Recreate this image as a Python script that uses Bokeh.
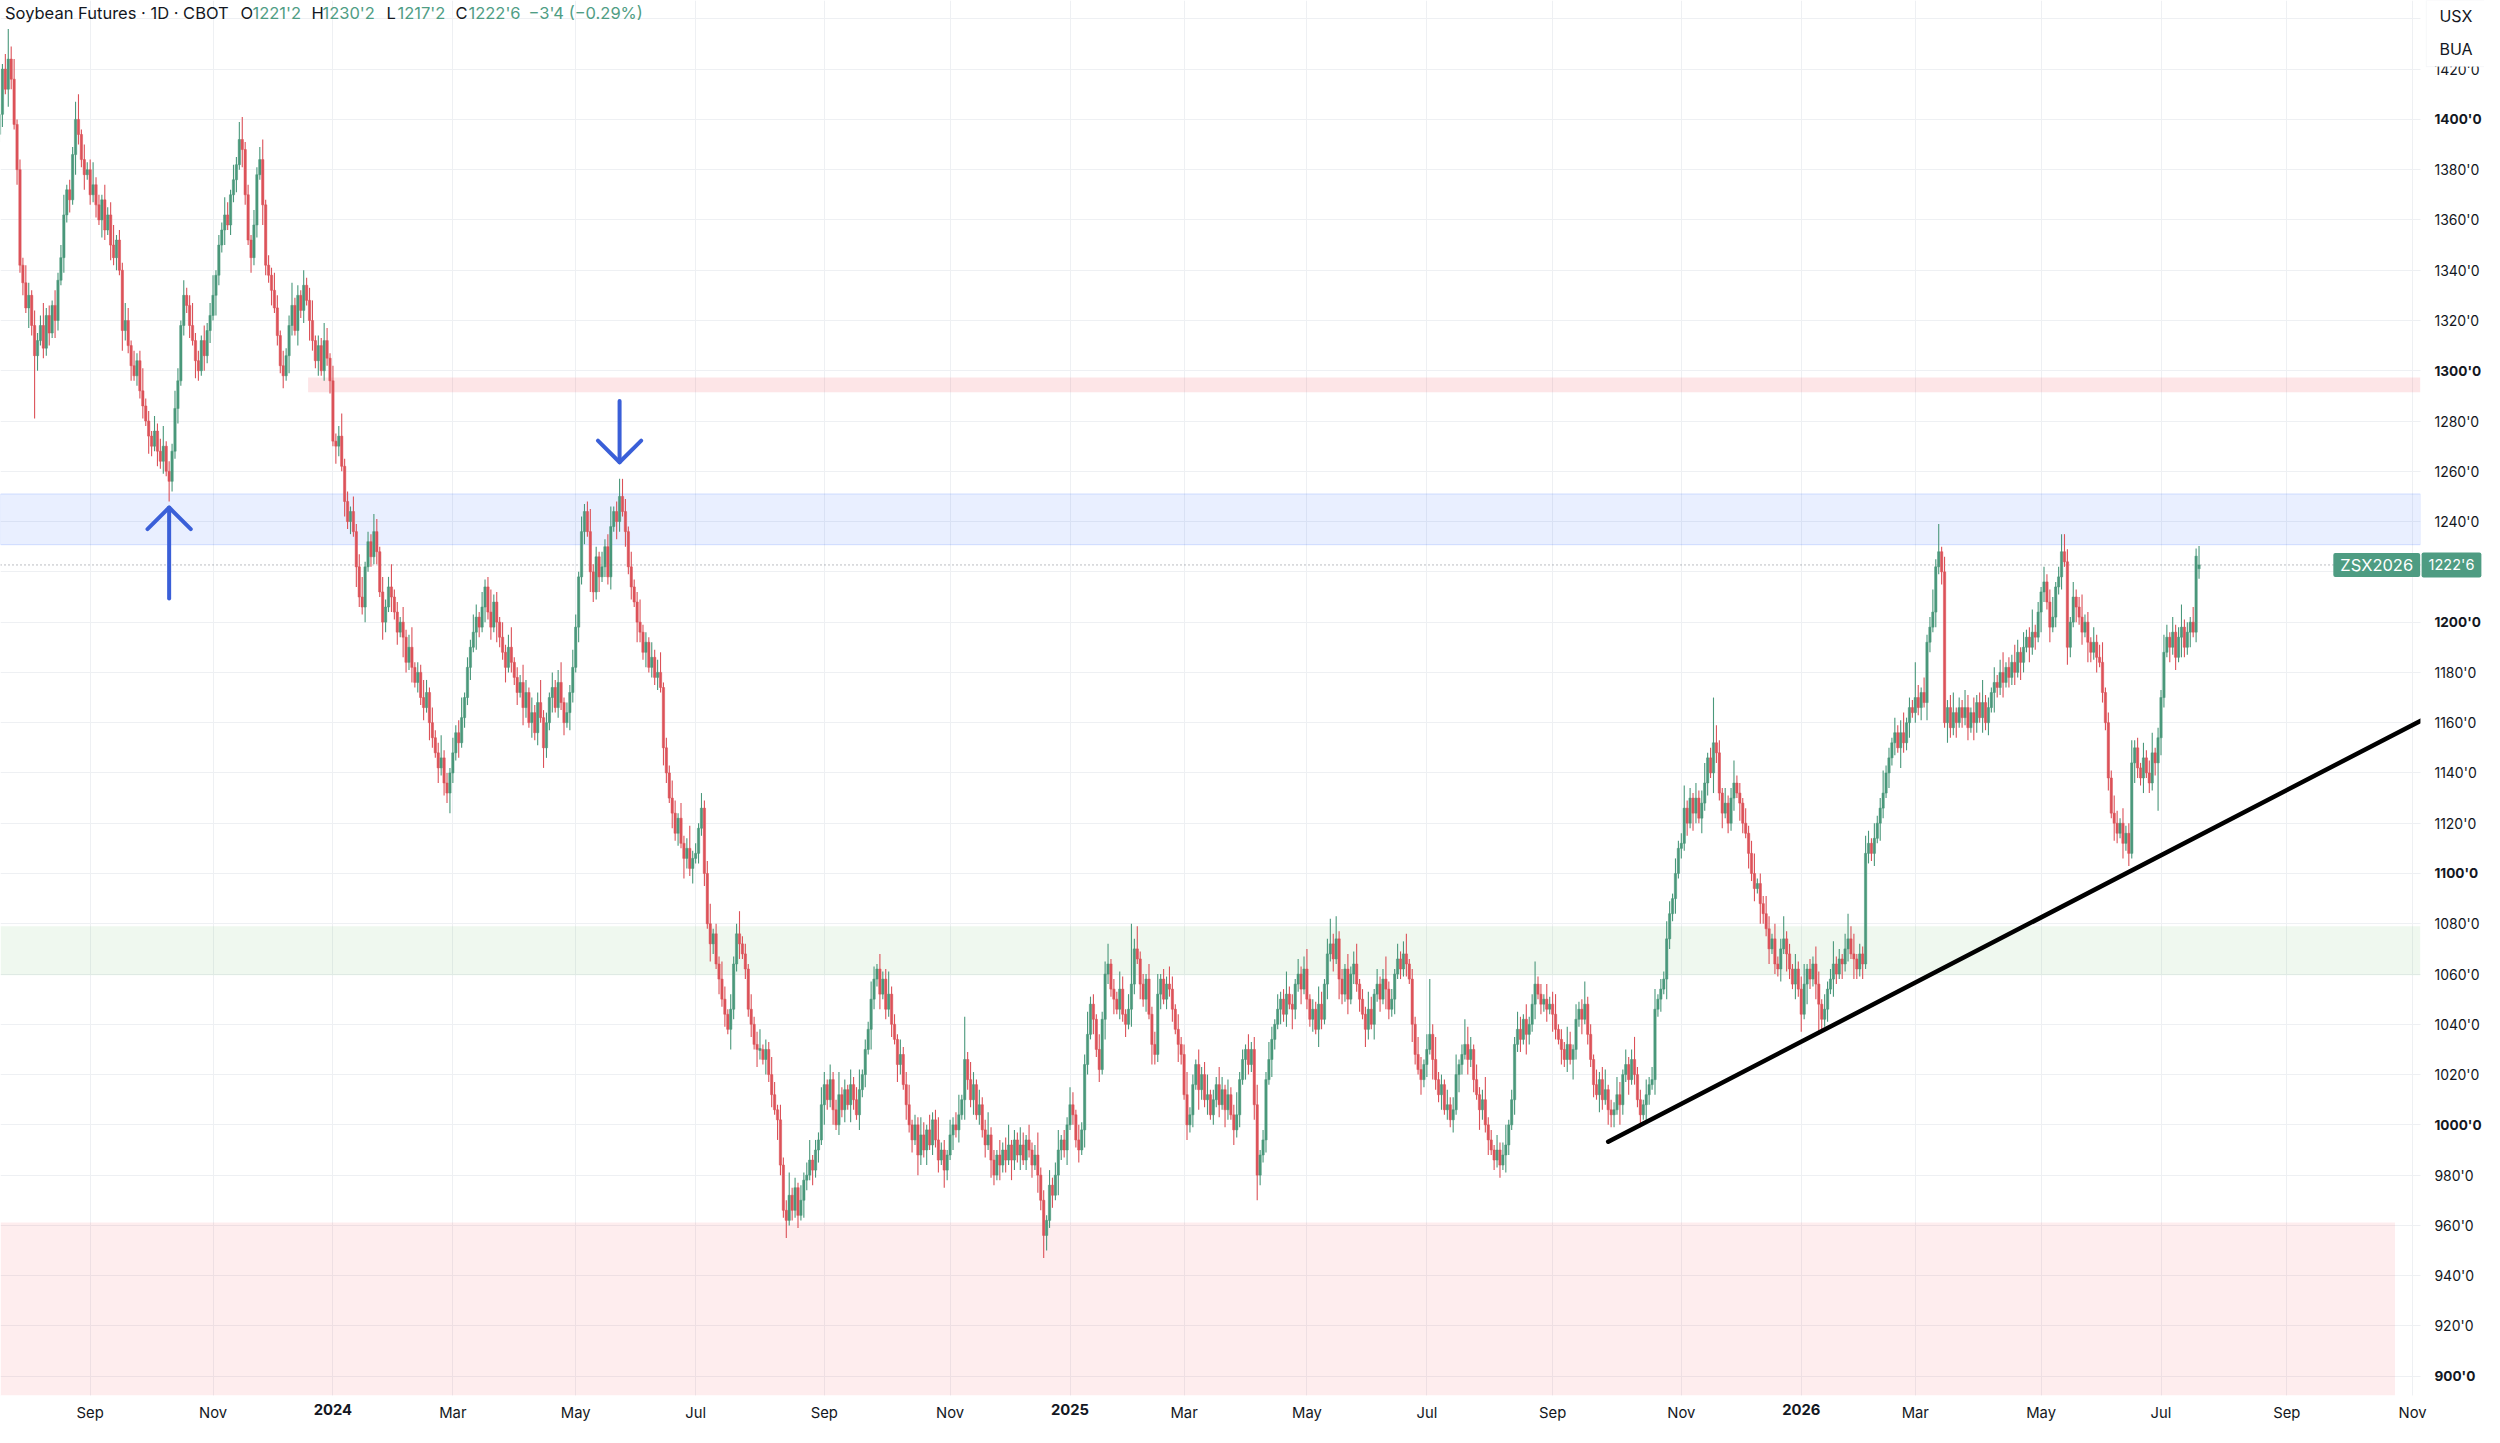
import numpy as np
import pandas as pd
from bokeh.plotting import figure
from bokeh.models import (ColumnDataSource, FixedTicker, Label, BoxAnnotation, Span,
                          Range1d, LinearAxis, Grid)
from bokeh.embed import file_html
from bokeh.resources import INLINE

# ---------------------------------------------------------------- data
SYMBOL = "ZSX2026"
TITLE = "Soybean Futures · 1D · CBOT"
START_DATE = "2023-07-20"
HOLIDAYS = ["2023-09-04", "2023-11-23", "2023-12-25", "2024-01-01", "2024-01-15",
            "2024-02-19", "2024-03-29", "2024-05-27", "2024-06-19", "2024-07-04",
            "2024-09-02", "2024-11-28", "2024-12-25", "2025-01-01", "2025-01-09",
            "2025-01-20", "2025-02-17", "2025-04-18", "2025-05-26", "2025-06-19",
            "2025-07-04", "2025-09-01", "2025-11-27", "2025-12-25", "2026-01-01",
            "2026-01-19", "2026-02-16", "2026-04-03", "2026-05-25", "2026-06-19",
            "2026-07-03", "2026-09-07"]
FIRST_OPEN = 1394
LAST_OPEN, LAST_HIGH, LAST_LOW = 1221.25, 1230.25, 1217.25

# daily closes, one list per month
c_2023_07 = [1402, 1420, 1412, 1424, 1416, 1398, 1380, 1342]
c_2023_08 = [1335, 1325, 1330, 1318, 1306, 1312, 1318, 1309, 1322, 1315, 1326, 1320, 1336, 1345,
             1362, 1372, 1368, 1386, 1400, 1394, 1384, 1378, 1380]
c_2023_09 = [1370, 1374, 1366, 1360, 1368, 1356, 1362, 1350, 1345, 1352, 1340, 1316, 1320, 1310,
             1302, 1298, 1304, 1292, 1286, 1280]
c_2023_10 = [1274, 1270, 1276, 1268, 1264, 1270, 1260, 1256, 1268, 1285, 1296, 1318, 1330, 1326,
             1318, 1312, 1304, 1300, 1312, 1306, 1316, 1322]
c_2023_11 = [1330, 1338, 1350, 1356, 1362, 1358, 1370, 1376, 1382, 1392, 1388, 1370, 1352, 1345,
             1358, 1378, 1384, 1366, 1342, 1338, 1332]
c_2023_12 = [1325, 1314, 1302, 1298, 1306, 1318, 1326, 1316, 1330, 1324, 1334, 1328, 1320, 1312,
             1304, 1310, 1300, 1312, 1305, 1296]
c_2024_01 = [1272, 1270, 1274, 1262, 1248, 1240, 1244, 1236, 1222, 1210, 1206, 1222, 1232, 1226,
             1236, 1228, 1212, 1200, 1206, 1214, 1210]
c_2024_02 = [1204, 1196, 1200, 1194, 1184, 1190, 1182, 1176, 1180, 1170, 1166, 1172, 1160, 1154,
             1148, 1142, 1146, 1136, 1132, 1140]
c_2024_03 = [1148, 1156, 1152, 1162, 1170, 1182, 1190, 1196, 1202, 1198, 1206, 1214, 1204, 1198,
             1208, 1200, 1194, 1188, 1182, 1190]
c_2024_04 = [1184, 1178, 1172, 1176, 1166, 1172, 1160, 1164, 1156, 1168, 1162, 1150, 1160, 1170,
             1174, 1166, 1176, 1168, 1160, 1164, 1172, 1182]
c_2024_05 = [1198, 1218, 1236, 1244, 1236, 1220, 1212, 1226, 1218, 1222, 1230, 1218, 1238, 1244,
             1240, 1250, 1244, 1236, 1222, 1214, 1208, 1200]
c_2024_06 = [1196, 1188, 1192, 1182, 1186, 1178, 1180, 1174, 1150, 1140, 1130, 1124, 1116, 1122,
             1112, 1106, 1110, 1102, 1106]
c_2024_07 = [1108, 1118, 1126, 1100, 1080, 1072, 1076, 1064, 1058, 1050, 1044, 1038, 1046, 1064,
             1076, 1072, 1068, 1062, 1046, 1040, 1032, 1030]
c_2024_08 = [1030, 1026, 1030, 1020, 1012, 1006, 1002, 984, 966, 962, 972, 966, 975, 964, 970,
             978, 980, 986, 982, 990, 994, 1008]
c_2024_09 = [1016, 1010, 1018, 1006, 1000, 1012, 1006, 1014, 1008, 1016, 1010, 1004, 1014, 1020,
             1030, 1038, 1050, 1058, 1062, 1052]
c_2024_10 = [1058, 1046, 1052, 1040, 1034, 1024, 1028, 1016, 1008, 1000, 994, 1000, 988, 996,
             990, 998, 992, 1002, 994, 986, 990, 982, 988]
c_2024_11 = [996, 1000, 998, 1004, 1010, 1026, 1018, 1010, 1016, 1004, 1008, 998, 992, 996, 986,
             980, 988, 984, 990, 986]
c_2024_12 = [992, 986, 994, 988, 992, 986, 994, 990, 984, 988, 980, 970, 956, 962, 976, 972, 980,
             990, 994, 990, 1000]
c_2025_01 = [1008, 1004, 994, 990, 998, 1024, 1036, 1048, 1042, 1030, 1022, 1042, 1060, 1064,
             1054, 1050, 1046, 1054, 1044, 1040]
c_2025_02 = [1046, 1056, 1070, 1066, 1056, 1050, 1058, 1044, 1032, 1028, 1052, 1058, 1050, 1056,
             1054, 1046, 1038, 1032, 1028]
c_2025_03 = [1012, 1000, 1004, 1016, 1024, 1014, 1020, 1010, 1012, 1004, 1010, 1016, 1008, 1014,
             1006, 1012, 1004, 998, 1004, 1018, 1026]
c_2025_04 = [1030, 1024, 1030, 1008, 980, 988, 994, 1018, 1026, 1034, 1040, 1046, 1050, 1044,
             1052, 1048, 1046, 1056, 1060, 1054, 1062]
c_2025_05 = [1050, 1042, 1046, 1038, 1048, 1042, 1056, 1068, 1072, 1066, 1074, 1058, 1052, 1062,
             1050, 1060, 1064, 1056, 1050, 1044, 1038]
c_2025_06 = [1046, 1040, 1052, 1056, 1050, 1058, 1054, 1046, 1050, 1060, 1066, 1062, 1068, 1064,
             1058, 1040, 1028, 1022, 1018, 1024]
c_2025_07 = [1030, 1036, 1026, 1018, 1012, 1016, 1006, 1008, 1002, 1006, 1020, 1024, 1028, 1032,
             1026, 1030, 1018, 1012, 1006, 1010, 1000, 994]
c_2025_08 = [990, 986, 990, 984, 988, 992, 1000, 1010, 1032, 1038, 1034, 1042, 1036, 1040, 1048,
             1056, 1052, 1048, 1050, 1046, 1048]
c_2025_09 = [1044, 1038, 1034, 1030, 1026, 1032, 1026, 1030, 1042, 1046, 1042, 1048, 1036, 1026,
             1016, 1012, 1018, 1010, 1014, 1006, 1004]
c_2025_10 = [1006, 1012, 1008, 1020, 1024, 1018, 1026, 1020, 1010, 1004, 1008, 1012, 1016, 1018,
             1046, 1050, 1054, 1058, 1074, 1084, 1090, 1100, 1110]
c_2025_11 = [1112, 1126, 1120, 1130, 1124, 1130, 1122, 1128, 1136, 1146, 1140, 1152, 1148, 1132,
             1124, 1128, 1120, 1130, 1136]
c_2025_12 = [1132, 1128, 1120, 1116, 1108, 1100, 1094, 1096, 1088, 1084, 1078, 1070, 1074, 1064,
             1062, 1070, 1074, 1068, 1062, 1056, 1062, 1054]
c_2026_01 = [1044, 1056, 1062, 1058, 1064, 1056, 1048, 1042, 1046, 1054, 1058, 1064, 1060, 1066,
             1064, 1070, 1074, 1068, 1066, 1062]
c_2026_02 = [1068, 1064, 1108, 1112, 1108, 1114, 1120, 1126, 1132, 1140, 1146, 1152, 1156, 1150,
             1156, 1152, 1160, 1166, 1164]
c_2026_03 = [1170, 1166, 1172, 1168, 1192, 1198, 1204, 1222, 1228, 1220, 1160, 1166, 1158, 1164,
             1160, 1166, 1162, 1166, 1158, 1164, 1160, 1168]
c_2026_04 = [1162, 1168, 1160, 1166, 1172, 1176, 1174, 1180, 1176, 1182, 1178, 1184, 1180, 1188,
             1184, 1190, 1194, 1190, 1196, 1194, 1204]
c_2026_05 = [1212, 1216, 1208, 1198, 1202, 1214, 1218, 1228, 1224, 1190, 1200, 1210, 1206, 1202,
             1196, 1200, 1192, 1188, 1192, 1186]
c_2026_06 = [1184, 1172, 1160, 1138, 1124, 1120, 1116, 1120, 1112, 1116, 1108, 1144, 1150, 1142,
             1138, 1146, 1140, 1136, 1148, 1144, 1154]
c_2026_07 = [1170, 1188, 1194, 1190, 1196, 1186, 1194, 1198, 1190, 1196, 1200, 1196, 1226.25,
             1222.75]

# wick lengths (price units) and notable extremes
WICK_UP = [4, 2, 6, 3, 5, 8, 2, 4, 3, 7, 5, 2, 6, 3, 4, 9, 3]
WICK_DN = [3, 5, 2, 7, 4, 2, 6, 3, 5, 2, 8, 4, 3, 6, 2, 4]
EXTREME_HIGHS = {"2023-07-25": 1436, "2023-08-28": 1410, "2023-11-14": 1399,
                 "2024-05-22": 1257, "2024-11-08": 1043, "2025-02-04": 1080,
                 "2025-05-13": 1082, "2025-07-02": 1058, "2025-07-21": 1042,
                 "2025-11-18": 1170, "2026-01-27": 1084, "2026-03-02": 1184,
                 "2026-03-12": 1239, "2026-05-12": 1235}
EXTREME_LOWS = {"2023-08-07": 1281, "2023-10-11": 1250, "2024-02-28": 1128,
                "2024-08-14": 955, "2024-12-18": 947, "2025-04-07": 970,
                "2025-08-06": 981, "2025-09-30": 999, "2026-01-02": 1037,
                "2026-01-12": 1036, "2026-06-15": 1103, "2026-06-30": 1125}

Y_TICKS = list(range(900, 1441, 20))
MONTH_ABBR = ["Jan", "Feb", "Mar", "Apr", "May", "Jun", "Jul", "Aug", "Sep", "Oct", "Nov", "Dec"]
LABEL_MONTHS = [1, 3, 5, 7, 9, 11]
AXIS_MONTHS = ("2023-09-01", "2026-11-01")

ZONES = [
    dict(bottom=1291.5, top=1297.3, start="2023-12-19", end=None, color="#f23645", alpha=0.13, edge=0),
    dict(bottom=1230.8, top=1251.0, start=None, end=None, color="#2962ff", alpha=0.10, edge=0.18),
    dict(bottom=1059.5, top=1079.0, start=None, end=None, color="#4caf50", alpha=0.09, edge=0),
    dict(bottom=None, top=961.2, start=None, end="2026-10-23", color="#f23645", alpha=0.09, edge=0),
]
TREND = [("2025-09-29", 993.3), ("2026-11-05", 1160.9)]
ARROWS = [dict(date="2023-10-11", base=1209.4, tip=1245.6),
          dict(date="2024-05-22", base=1288.0, tip=1263.6)]
ARROW_HEAD_W, ARROW_HEAD_H = 7.4, 8.6

UP, DOWN = "#4a987b", "#dc5259"
TAG = "#4e9c82"
GREEN_TXT = "#4f9d84"
DARK = "#131722"
GRID = "#eef0f3"
FONT = "Inter"

# ---------------------------------------------------------------- build
closes = (c_2023_07 + c_2023_08 + c_2023_09 + c_2023_10 + c_2023_11 + c_2023_12 +
          c_2024_01 + c_2024_02 + c_2024_03 + c_2024_04 + c_2024_05 + c_2024_06 +
          c_2024_07 + c_2024_08 + c_2024_09 + c_2024_10 + c_2024_11 + c_2024_12 +
          c_2025_01 + c_2025_02 + c_2025_03 + c_2025_04 + c_2025_05 + c_2025_06 +
          c_2025_07 + c_2025_08 + c_2025_09 + c_2025_10 + c_2025_11 + c_2025_12 +
          c_2026_01 + c_2026_02 + c_2026_03 + c_2026_04 + c_2026_05 + c_2026_06 +
          c_2026_07)
n = len(closes)
days = pd.bdate_range(START_DATE, "2026-12-31", freq="C", holidays=HOLIDAYS)


def di(d):
    return int(days.searchsorted(pd.Timestamp(d)))


opens = [FIRST_OPEN] + closes[:-1]
opens[-1] = LAST_OPEN
highs = [max(o, c) + WICK_UP[i % len(WICK_UP)] for i, (o, c) in enumerate(zip(opens, closes))]
lows = [min(o, c) - WICK_DN[i % len(WICK_DN)] for i, (o, c) in enumerate(zip(opens, closes))]
highs[-1], lows[-1] = LAST_HIGH, LAST_LOW
for d, v in EXTREME_HIGHS.items():
    i = di(d)
    if i < n:
        highs[i] = max(highs[i], v)
for d, v in EXTREME_LOWS.items():
    i = di(d)
    if i < n:
        lows[i] = min(lows[i], v)

tops = [max(o, c) + (0.4 if o == c else 0) for o, c in zip(opens, closes)]
bots = [min(o, c) - (0.4 if o == c else 0) for o, c in zip(opens, closes)]
cols = [UP if c >= o else DOWN for o, c in zip(opens, closes)]
src = ColumnDataSource(dict(x=list(range(n)), high=highs, low=lows, top=tops, bottom=bots, color=cols))


def fmt(v):
    s = "−" if v < 0 else ""
    v = abs(v)
    w = int(np.floor(v + 1e-9))
    e = int(round((v - w) * 8))
    return f"{s}{w}'{e}"


last_close, prev_close = closes[-1], closes[-2]
chg = last_close - prev_close
pct = chg / prev_close * 100
chg_text = f"{fmt(chg)} ({'−' if pct < 0 else ''}{abs(pct):.2f}%)"

month_starts = pd.date_range(AXIS_MONTHS[0], AXIS_MONTHS[1], freq="MS")
x_ticks, x_text = [], []
for ms in month_starts:
    if ms.month in LABEL_MONTHS:
        x_ticks.append(di(ms))
        x_text.append(str(ms.year) if ms.month == 1 else MONTH_ABBR[ms.month - 1])
year_ticks = [t for t, s in zip(x_ticks, x_text) if s.isdigit()]
month_ticks = [t for t, s in zip(x_ticks, x_text) if not s.isdigit()]

# ---------------------------------------------------------------- layout
FW, FH = 2484, 1427
X0, X1 = 0.342, 849.6         # bar-index range of the whole canvas
SCALE_X = 827.7               # where the price scale starts
Y0, Y1 = 879.6, 1447.3        # price range of the whole canvas
CHART_BOTTOM = 892.3          # where the time scale starts

p = figure(frame_width=FW, frame_height=FH, x_range=Range1d(X0, X1), y_range=Range1d(Y0, Y1),
           x_axis_type=None, y_axis_type=None, output_backend="svg", toolbar_location=None,
           min_border=0, background_fill_color="white", border_fill_color="white")
p.outline_line_color = None

p.add_layout(Grid(dimension=0, ticker=FixedTicker(ticks=x_ticks), grid_line_color=GRID))
p.add_layout(Grid(dimension=1, ticker=FixedTicker(ticks=Y_TICKS), grid_line_color=GRID))

for z in ZONES:
    kw = dict(fill_color=z["color"], fill_alpha=z["alpha"], level="underlay", top=z["top"],
              bottom=z["bottom"] if z["bottom"] is not None else CHART_BOTTOM,
              right=di(z["end"]) if z["end"] is not None else SCALE_X)
    if z["start"] is not None:
        kw["left"] = di(z["start"]) - 0.5
    if z["edge"]:
        kw.update(line_color=z["color"], line_alpha=z["edge"], line_width=1)
    else:
        kw["line_color"] = None
    p.add_layout(BoxAnnotation(**kw))

p.add_layout(Span(location=last_close, dimension="width", line_color="#787b86",
                  line_dash="1 3", line_width=1, level="underlay"))

# white price-scale and time-scale areas (hide grid there)
p.add_layout(BoxAnnotation(left=SCALE_X, fill_color="white", fill_alpha=1, line_color=None,
                           level="glyph"))
p.add_layout(BoxAnnotation(top=CHART_BOTTOM, fill_color="white", fill_alpha=1, line_color=None,
                           level="glyph"))

p.segment(x0="x", y0="low", x1="x", y1="high", line_color="color", line_width=1.1, source=src)
p.vbar(x="x", width=0.8, top="top", bottom="bottom", fill_color="color",
       line_color="color", line_width=0.5, source=src)

p.line([di(TREND[0][0]), di(TREND[1][0])], [TREND[0][1], TREND[1][1]],
       line_color="black", line_width=4.5, line_cap="round")

xs, ys = [], []
for a in ARROWS:
    ax_ = di(a["date"])
    s = 1 if a["tip"] > a["base"] else -1
    xs += [[ax_, ax_], [ax_ - ARROW_HEAD_W, ax_, ax_ + ARROW_HEAD_W]]
    ys += [[a["base"], a["tip"]], [a["tip"] - s * ARROW_HEAD_H, a["tip"], a["tip"] - s * ARROW_HEAD_H]]
p.multi_line(xs, ys, line_color="#3a5fd8", line_width=4, line_cap="round", line_join="round")


def style_axis(ax, size, bold=False):
    ax.axis_line_color = None
    ax.major_tick_line_color = None
    ax.minor_tick_line_color = None
    ax.major_label_text_font = FONT
    ax.major_label_text_font_size = size
    ax.major_label_text_color = DARK
    ax.major_label_text_font_style = "bold" if bold else "normal"


# price scale: regular and bold (round hundreds) labels
hundreds = [t for t in Y_TICKS if t % 100 == 0]
others = [t for t in Y_TICKS if t % 100 != 0]
ya = LinearAxis(fixed_location=SCALE_X, ticker=FixedTicker(ticks=others),
                major_label_overrides={t: f"{t}'0" for t in others}, major_label_standoff=8)
style_axis(ya, "14px")
p.add_layout(ya, "right")
yb = LinearAxis(fixed_location=SCALE_X, ticker=FixedTicker(ticks=hundreds),
                major_label_overrides={t: f"{t}'0" for t in hundreds}, major_label_standoff=8)
style_axis(yb, "13.6px", bold=True)
p.add_layout(yb, "right")

# time scale: months and bold years
xa = LinearAxis(fixed_location=CHART_BOTTOM, ticker=FixedTicker(ticks=month_ticks),
                major_label_overrides={t: s for t, s in zip(x_ticks, x_text) if not s.isdigit()},
                major_label_standoff=2)
style_axis(xa, "14.8px")
p.add_layout(xa, "below")
xb = LinearAxis(fixed_location=CHART_BOTTOM, ticker=FixedTicker(ticks=year_ticks),
                major_label_overrides={t: s for t, s in zip(x_ticks, x_text) if s.isdigit()},
                major_label_standoff=2)
style_axis(xb, "14.8px", bold=True)
p.add_layout(xb, "below")

# header
header = [(TITLE, DARK), ("O", DARK), (fmt(opens[-1]), GREEN_TXT), ("H", DARK),
          (fmt(highs[-1]), GREEN_TXT), ("L", DARK), (fmt(lows[-1]), GREEN_TXT),
          ("C", DARK), (fmt(last_close), GREEN_TXT), (chg_text, GREEN_TXT)]
HEADER_X = [4.5, 240, 252, 311, 322, 386, 397, 455, 468, 528]
for (txt, col), hx in zip(header, HEADER_X):
    p.add_layout(Label(x=hx, y=FH - 12.7, x_units="screen", y_units="screen", text=txt,
                       text_font=FONT, text_font_size="16.5px", text_color=col,
                       text_align="left", text_baseline="middle"))

# last price tags
p.add_layout(Label(x=SCALE_X - 0.1, y=last_close, text=SYMBOL, text_font=FONT,
                   text_font_size="16.5px", text_color="white", text_align="right",
                   text_baseline="middle", background_fill_color=TAG,
                   padding=dict(x=7, y=2), border_radius=2))
p.add_layout(Label(x=SCALE_X + 0.4, y=last_close, text=fmt(last_close), text_font=FONT,
                   text_font_size="14.5px", text_color="white", text_align="left",
                   text_baseline="middle", background_fill_color=TAG,
                   padding=dict(x=7, y=4), border_radius=2))

# unit box (top right)
p.add_layout(BoxAnnotation(left=829.7, bottom=1421.0, fill_color="white",
                           fill_alpha=1, line_color="#e0e3eb", line_width=1, level="annotation"))
for txt, yy in (("USX", 1441.3), ("BUA", 1428.2)):
    p.add_layout(Label(x=834.2, y=yy, text=txt, text_font=FONT, text_font_size="16px",
                       text_color=DARK, text_align="left", text_baseline="middle"))

open("out.html", "w").write(file_html(p, INLINE))
